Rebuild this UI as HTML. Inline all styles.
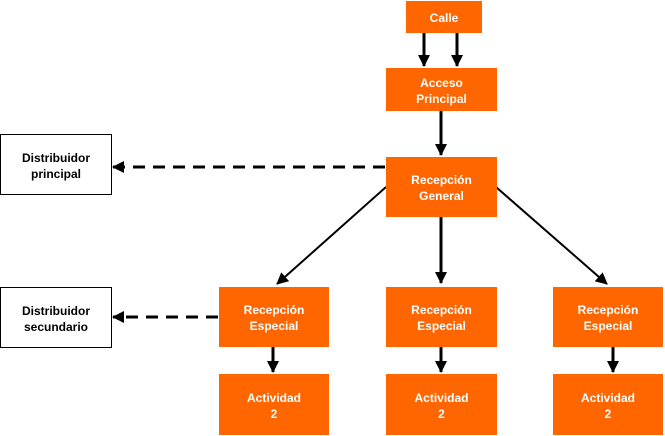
<!DOCTYPE html>
<html><head><style>
body{margin:0;background:#fff;width:665px;height:436px;position:relative;overflow:hidden;font-family:"Liberation Sans",sans-serif;}
.b{position:absolute;display:flex;align-items:center;justify-content:center;text-align:center;font-weight:bold;font-size:12px;line-height:16px;box-sizing:border-box;padding-top:2px;}
.o{background:#ff6600;color:#fff;}
.w{background:#fff;border:1px solid #000;color:#000;}
svg{position:absolute;left:0;top:0;}
</style></head><body>
<svg width="665" height="436">
<defs><marker id="a" markerUnits="userSpaceOnUse" markerWidth="12" markerHeight="12" refX="11" refY="6" orient="auto"><path d="M0,0L12,6L0,12z" fill="#000"/></marker></defs>
<g stroke="#000" stroke-width="3" fill="none" marker-end="url(#a)">
<line x1="424" y1="33" x2="424" y2="66"/>
<line x1="457" y1="33" x2="457" y2="66"/>
<line x1="441" y1="111" x2="441" y2="155"/>
<line x1="441" y1="217" x2="441" y2="283"/>
<line x1="386" y1="187" x2="277" y2="284" stroke-width="2"/>
<line x1="496" y1="187" x2="607" y2="284" stroke-width="2"/>
<line x1="273" y1="347" x2="273" y2="372"/>
<line x1="441" y1="347" x2="441" y2="372"/>
<line x1="613" y1="347" x2="613" y2="372"/>
<line x1="385" y1="167" x2="113" y2="167" stroke-dasharray="12,8"/>
<line x1="218" y1="317" x2="113" y2="317" stroke-dasharray="12,8"/>
</g>
</svg>
<div class="b o" style="left:406px;top:1px;width:76px;height:32px">Calle</div>
<div class="b o" style="left:386px;top:68px;width:111px;height:43px">Acceso<br>Principal</div>
<div class="b o" style="left:386px;top:157px;width:111px;height:60px">Recepción<br>General</div>
<div class="b w" style="left:0;top:134px;width:112px;height:61px">Distribuidor<br>principal</div>
<div class="b w" style="left:0;top:287px;width:112px;height:61px">Distribuidor<br>secundario</div>
<div class="b o" style="left:219px;top:287px;width:110px;height:60px">Recepción<br>Especial</div>
<div class="b o" style="left:386px;top:287px;width:111px;height:60px">Recepción<br>Especial</div>
<div class="b o" style="left:553px;top:287px;width:110px;height:60px">Recepción<br>Especial</div>
<div class="b o" style="left:219px;top:374px;width:110px;height:61px">Actividad<br>2</div>
<div class="b o" style="left:386px;top:374px;width:111px;height:61px">Actividad<br>2</div>
<div class="b o" style="left:553px;top:374px;width:110px;height:61px">Actividad<br>2</div>
</body></html>
